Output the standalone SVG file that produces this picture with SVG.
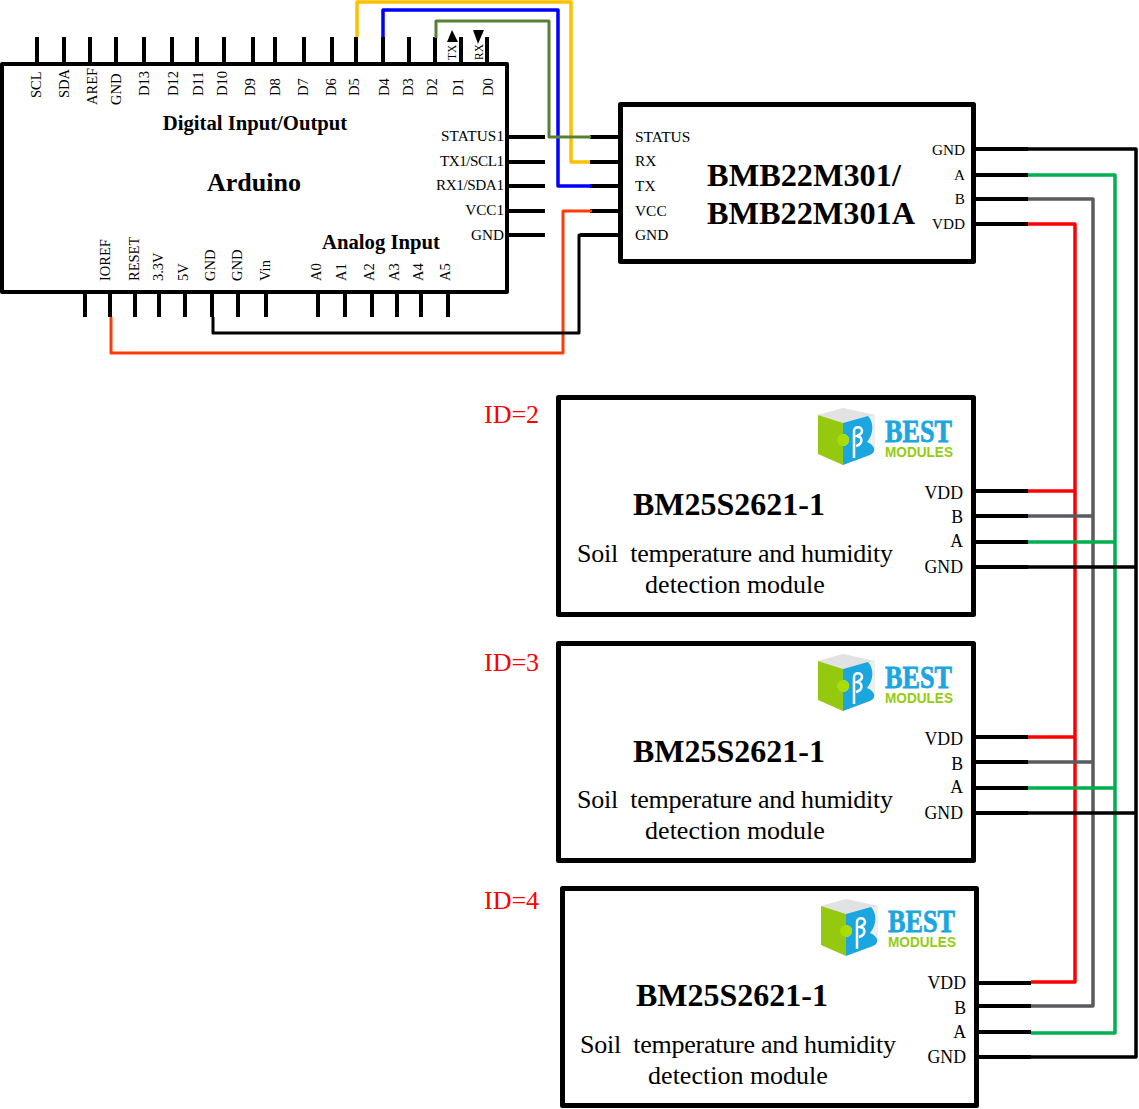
<svg xmlns="http://www.w3.org/2000/svg" width="1139" height="1109" viewBox="0 0 1139 1109">
<style>
text{font-family:"Liberation Serif","Times New Roman",serif;fill:#000}
.box{fill:#fff;stroke:#000;stroke-linejoin:round}
.pin{stroke:#000;stroke-width:4;fill:none}
.w{fill:none;stroke-width:3.5;stroke-linejoin:round}
.k{stroke:#000}.r{stroke:#f00}.g{stroke:#595b60}.n{stroke:#00b050}
.v{font-size:14.500px}
.s{font-size:15.200px;text-anchor:end}
.l{font-size:15.400px}
.m{font-size:17.800px;text-anchor:end}
.t{font-size:32px;font-weight:bold;text-anchor:middle}
.h{font-size:20.700px;font-weight:bold;text-anchor:middle}
.d{font-size:26px;text-anchor:middle;white-space:pre}
.id{font-size:26px;fill:#f00}
.best{font-family:"Liberation Serif",serif;font-weight:bold;font-size:32px;fill:#1ba6e0;stroke:#1ba6e0;stroke-width:.8}
.mod{font-family:"Liberation Sans",Arial,sans-serif;font-weight:bold;font-size:15px;fill:#94cc10}
</style>
<defs>
<g id="cube">
<path d="M0 7L25 0L57 7V42L25 57Z" fill="#eeeeef"/>
<path d="M0 7L25 0L57 7L25 15Z" fill="#e2e2e4"/>
<path d="M0 7L25 15V57L0 46Z" fill="#95c90f"/>
<path d="M25 15L50 8C56 14 56 26 49 34C57 37 59 44 52 47L25 57V38A6 6 0 0 0 25 26Z" fill="#1ba6e0"/>
<circle cx="25" cy="32" r="6" fill="#a9dc00"/>
<path d="M36 50V23C36 18 44 18 44 23C44 26 41 27 39 28C45 29 45 36 38 38" fill="none" stroke="#fff" stroke-width="2.500"/>
</g>
</defs>

<g id="arduino">
<g class="pin">
<path d="M37 37V63M64 37V63M90 37V63M116 37V63M144 37V63M172 37V63M197 37V63M224 37V63M253 37V63M275 37V63M304 37V63M332 37V63M356 37V63M383 37V63M409 37V63M435 37V63M461 37V63M487 37V63"/>
<path d="M85 293V317M110 293V317M135 293V317M159 293V317M185 293V317M212 293V317M238 293V317M266 293V317M318 293V317M345 293V317M372 293V317M397 293V317M421 293V317M448 293V317"/>
<path d="M508 137H545M508 162H545M508 186H545M508 211H545M508 235H545"/>
</g>
<rect class="box" x="2" y="64" width="505" height="228" stroke-width="4"/>
<path d="M452 30L447 42H458Z"/><path d="M478 44L473 30H484Z"/>
<g class="v">
<text transform="translate(41 98) rotate(-90)">SCL</text>
<text transform="translate(69 98) rotate(-90)">SDA</text>
<text transform="translate(97 105) rotate(-90)">AREF</text>
<text transform="translate(121 105) rotate(-90)">GND</text>
<text transform="translate(149 96) rotate(-90)">D13</text>
<text transform="translate(178 96) rotate(-90)">D12</text>
<text transform="translate(203 96) rotate(-90)">D11</text>
<text transform="translate(227 96) rotate(-90)">D10</text>
<text transform="translate(255 96) rotate(-90)">D9</text>
<text transform="translate(280 96) rotate(-90)">D8</text>
<text transform="translate(308 96) rotate(-90)">D7</text>
<text transform="translate(336 96) rotate(-90)">D6</text>
<text transform="translate(359 96) rotate(-90)">D5</text>
<text transform="translate(389 96) rotate(-90)">D4</text>
<text transform="translate(413 96) rotate(-90)">D3</text>
<text transform="translate(437 96) rotate(-90)">D2</text>
<text transform="translate(463 96) rotate(-90)">D1</text>
<text transform="translate(493 96) rotate(-90)">D0</text>
<text transform="translate(456 60) rotate(-90)" style="font-size:11.500px">TX</text>
<text transform="translate(483 60) rotate(-90)" style="font-size:11.500px">RX</text>
<text transform="translate(110 281) rotate(-90)">IOREF</text>
<text transform="translate(139 281) rotate(-90)">RESET</text>
<text transform="translate(163 281) rotate(-90)">3.3V</text>
<text transform="translate(188 281) rotate(-90)">5V</text>
<text transform="translate(215 281) rotate(-90)">GND</text>
<text transform="translate(242 281) rotate(-90)">GND</text>
<text transform="translate(270 281) rotate(-90)">Vin</text>
<text transform="translate(321 281) rotate(-90)">A0</text>
<text transform="translate(346 281) rotate(-90)">A1</text>
<text transform="translate(374 281) rotate(-90)">A2</text>
<text transform="translate(399 281) rotate(-90)">A3</text>
<text transform="translate(423 281) rotate(-90)">A4</text>
<text transform="translate(450 281) rotate(-90)">A5</text>
</g>
<text class="s" x="504" y="141" textLength="63">STATUS1</text>
<text class="s" x="504" y="166" textLength="64">TX1/SCL1</text>
<text class="s" x="504" y="190" textLength="68">RX1/SDA1</text>
<text class="s" x="504" y="215">VCC1</text>
<text class="s" x="504" y="240">GND</text>
<text class="h" x="255" y="130">Digital Input/Output</text>
<text class="h" x="381" y="249">Analog Input</text>
<text x="254" y="191" style="font-size:26px;font-weight:bold;text-anchor:middle">Arduino</text>
</g>

<g id="bmb22m301">
<g class="pin"><path d="M590 137H620M590 162H620M590 186H620M590 211H620M580 235H620"/>
<path d="M976 149H1028M976 175H1028M976 199H1028M976 224H1028"/></g>
<rect class="box" x="620.500" y="104.500" width="353" height="157" stroke-width="5"/>
<text class="l" x="635" y="142">STATUS</text>
<text class="l" x="635" y="166">RX</text>
<text class="l" x="635" y="191">TX</text>
<text class="l" x="635" y="216">VCC</text>
<text class="l" x="635" y="240">GND</text>
<text class="s" x="965" y="155">GND</text>
<text class="s" x="965" y="180">A</text>
<text class="s" x="965" y="204">B</text>
<text class="s" x="965" y="229">VDD</text>
<text x="804" y="186" style="font-size:32.300px;font-weight:bold;text-anchor:middle">BMB22M301/</text>
<text x="811" y="224" style="font-size:32.300px;font-weight:bold;text-anchor:middle">BMB22M301A</text>
</g>

<g id="bm25-id2">
<g class="pin"><path d="M976 491H1028M976 516H1028M976 542H1028M976 567H1028"/></g>
<rect class="box" x="558.500" y="397.500" width="415" height="217" stroke-width="5"/>
<use href="#cube" x="818" y="408"/>
<text class="best" x="885" y="442" textLength="67" lengthAdjust="spacingAndGlyphs">BEST</text>
<text class="mod" x="885" y="457" textLength="68" lengthAdjust="spacingAndGlyphs">MODULES</text>
<text class="t" x="729" y="515">BM25S2621-1</text>
<text class="d" x="735" y="562" textLength="316">Soil  temperature and humidity</text>
<text class="d" x="735" y="593">detection module</text>
<text class="m" x="963" y="499">VDD</text>
<text class="m" x="963" y="523">B</text>
<text class="m" x="963" y="547">A</text>
<text class="m" x="963" y="573">GND</text>
</g>

<g id="bm25-id3">
<g class="pin"><path d="M976 737H1028M976 762H1028M976 788H1028M976 813H1028"/></g>
<rect class="box" x="558.500" y="643.500" width="415" height="217" stroke-width="5"/>
<use href="#cube" x="818" y="654"/>
<text class="best" x="885" y="688" textLength="67" lengthAdjust="spacingAndGlyphs">BEST</text>
<text class="mod" x="885" y="703" textLength="68" lengthAdjust="spacingAndGlyphs">MODULES</text>
<text class="t" x="729" y="762">BM25S2621-1</text>
<text class="d" x="735" y="808" textLength="316">Soil  temperature and humidity</text>
<text class="d" x="735" y="839">detection module</text>
<text class="m" x="963" y="745">VDD</text>
<text class="m" x="963" y="770">B</text>
<text class="m" x="963" y="793">A</text>
<text class="m" x="963" y="819">GND</text>
</g>

<g id="bm25-id4">
<g class="pin"><path d="M979 983H1031M979 1006H1031M979 1032H1031M979 1057H1031"/></g>
<rect class="box" x="562.500" y="888.500" width="414" height="217" stroke-width="5"/>
<use href="#cube" x="821" y="899"/>
<text class="best" x="888" y="932" textLength="67" lengthAdjust="spacingAndGlyphs">BEST</text>
<text class="mod" x="888" y="947" textLength="68" lengthAdjust="spacingAndGlyphs">MODULES</text>
<text class="t" x="732" y="1006">BM25S2621-1</text>
<text class="d" x="738" y="1053" textLength="316">Soil  temperature and humidity</text>
<text class="d" x="738" y="1084">detection module</text>
<text class="m" x="966" y="989">VDD</text>
<text class="m" x="966" y="1014">B</text>
<text class="m" x="966" y="1038">A</text>
<text class="m" x="966" y="1063">GND</text>
</g>

<g id="id-labels">
<text class="id" x="484" y="423">ID=2</text>
<text class="id" x="484" y="671">ID=3</text>
<text class="id" x="484" y="909">ID=4</text>
</g>

<g id="connectors">
<path class="w" stroke="#ff3b0a" style="stroke-width:3" d="M111 317V353H563V211H592"/>
<path class="w k" style="stroke-width:3" d="M213 317V333H579V235H590"/>
<path class="w" stroke="#ffc000" d="M357 37V2H571V162H590"/>
<path class="w" stroke="#00f" d="M383 37V10H558V186H592"/>
<path class="w" stroke="#548235" style="stroke-width:3" d="M436 38V21H549V137H591"/>
<path class="w r" d="M1028 224H1075V982H1031M1028 491H1075M1028 737H1075"/>
<path class="w g" d="M1028 199H1093V1006H1031M1028 516H1093M1028 762H1093"/>
<path class="w n" d="M1028 175H1115V1033H1031M1028 542H1115M1028 788H1115"/>
<path class="w k" d="M1028 149H1136V1057H1031M1028 567H1136M1028 813H1136"/>
</g>
</svg>
